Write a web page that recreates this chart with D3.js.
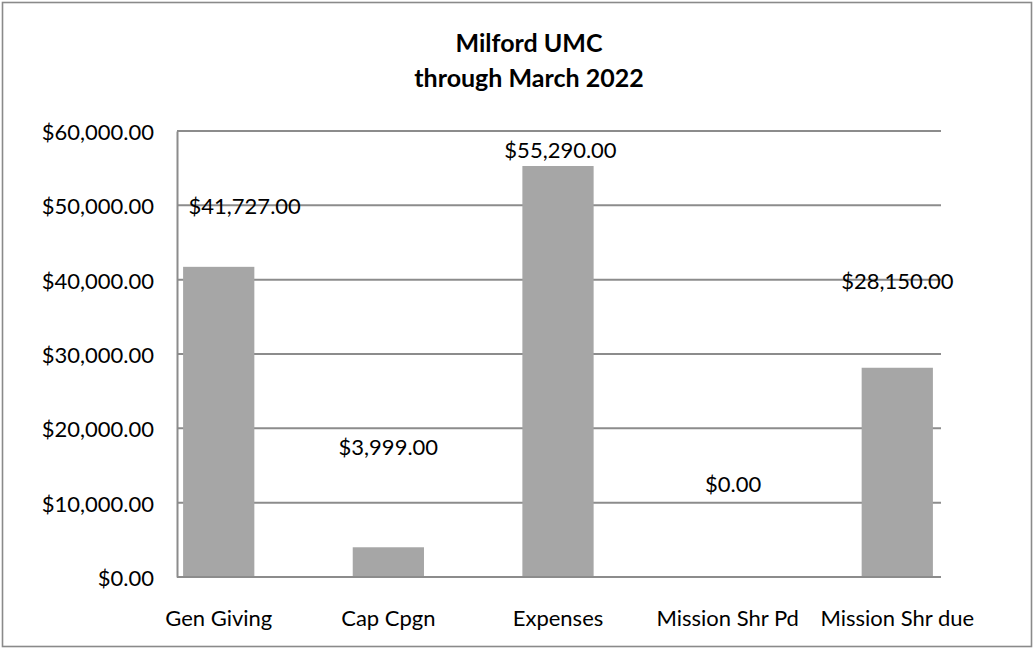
<!DOCTYPE html>
<html>
<head>
<meta charset="utf-8">
<script src="https://cdn.jsdelivr.net/npm/d3@7"></script>
<style>
  html, body { margin: 0; padding: 0; background: #fff; }
  svg { display: block; }
  text { font-family: Lato, "Open Sans", sans-serif; fill: #000; }
</style>
</head>
<body>
<script>
// ---- data ----
const categories = ["Gen Giving", "Cap Cpgn", "Expenses", "Mission Shr Pd", "Mission Shr due"];
const values = [41727, 3999, 55290, 0, 28150];
const yTicks = [0, 10000, 20000, 30000, 40000, 50000, 60000];
const titleLines = ["Milford UMC", "through March 2022"];

// ---- layout (manually moved data labels, in px relative to bar top/center) ----
const labelOffsets = [[26, -53], [0, -92], [2.5, -8], [5.5, -85], [0, -78.5]];

const W = 1034, H = 649;
const svg = d3.select("body").append("svg").attr("width", W).attr("height", H);

svg.append("rect").attr("x", 2.5).attr("y", 2.5).attr("width", 1029).attr("height", 644)
  .attr("fill", "#fff").attr("stroke", "#8a8a8a").attr("stroke-width", 1.6);

const plot = { left: 177, right: 941, top: 131, bottom: 577 };

const y = d3.scaleLinear().domain([0, 60000]).range([plot.bottom, plot.top]);
const x = d3.scaleBand().domain(categories).range([133.9, 982.1])
  .paddingInner(0.58).paddingOuter(0.29);

const fmt = v => "$" + d3.format(",.2f")(v);

// gridlines
svg.append("g").selectAll("line").data(yTicks).join("line")
  .attr("x1", plot.left).attr("x2", plot.right)
  .attr("y1", d => y(d)).attr("y2", d => y(d))
  .attr("stroke", "#8c8c8c").attr("stroke-width", 2);

// y axis
const yAxis = d3.axisLeft(y).tickValues(yTicks).tickFormat(fmt).tickSize(0).tickPadding(23);
const ga = svg.append("g").attr("transform", `translate(${plot.left},0)`).call(yAxis);
ga.select(".domain").attr("stroke", "#8c8c8c").attr("stroke-width", 2);
ga.selectAll("text").style("font-size", "22px").attr("dy", "0.38em")
  .style("font-family", "Lato, sans-serif");

// bars
svg.append("g").selectAll("rect").data(values).join("rect")
  .attr("x", (d, i) => x(categories[i]))
  .attr("width", x.bandwidth())
  .attr("y", d => y(d))
  .attr("height", d => y(0) - y(d))
  .attr("fill", "#a6a6a6");

// baseline over bars
svg.append("line").attr("x1", plot.left).attr("x2", plot.right)
  .attr("y1", y(0)).attr("y2", y(0)).attr("stroke", "#8c8c8c").attr("stroke-width", 2);

// data labels
svg.append("g").selectAll("text").data(values).join("text")
  .attr("x", (d, i) => x(categories[i]) + x.bandwidth() / 2 + labelOffsets[i][0])
  .attr("y", (d, i) => y(d) + labelOffsets[i][1])
  .attr("text-anchor", "middle")
  .style("font-size", "22px")
  .text(d => fmt(d));

// x axis labels
const xAxis = d3.axisBottom(x).tickSize(0).tickPadding(0);
const gx = svg.append("g").attr("transform", `translate(0,${plot.bottom})`).call(xAxis);
gx.select(".domain").remove();
gx.selectAll("text").attr("y", 49).attr("dy", 0)
  .style("font-size", "22px").style("font-family", "Lato, sans-serif");

// title
svg.append("g").selectAll("text").data(titleLines).join("text")
  .attr("x", 529).attr("y", (d, i) => 52 + i * 35)
  .attr("text-anchor", "middle")
  .style("font-size", "25px").style("font-weight", "bold")
  .text(d => d);
</script>
</body>
</html>
